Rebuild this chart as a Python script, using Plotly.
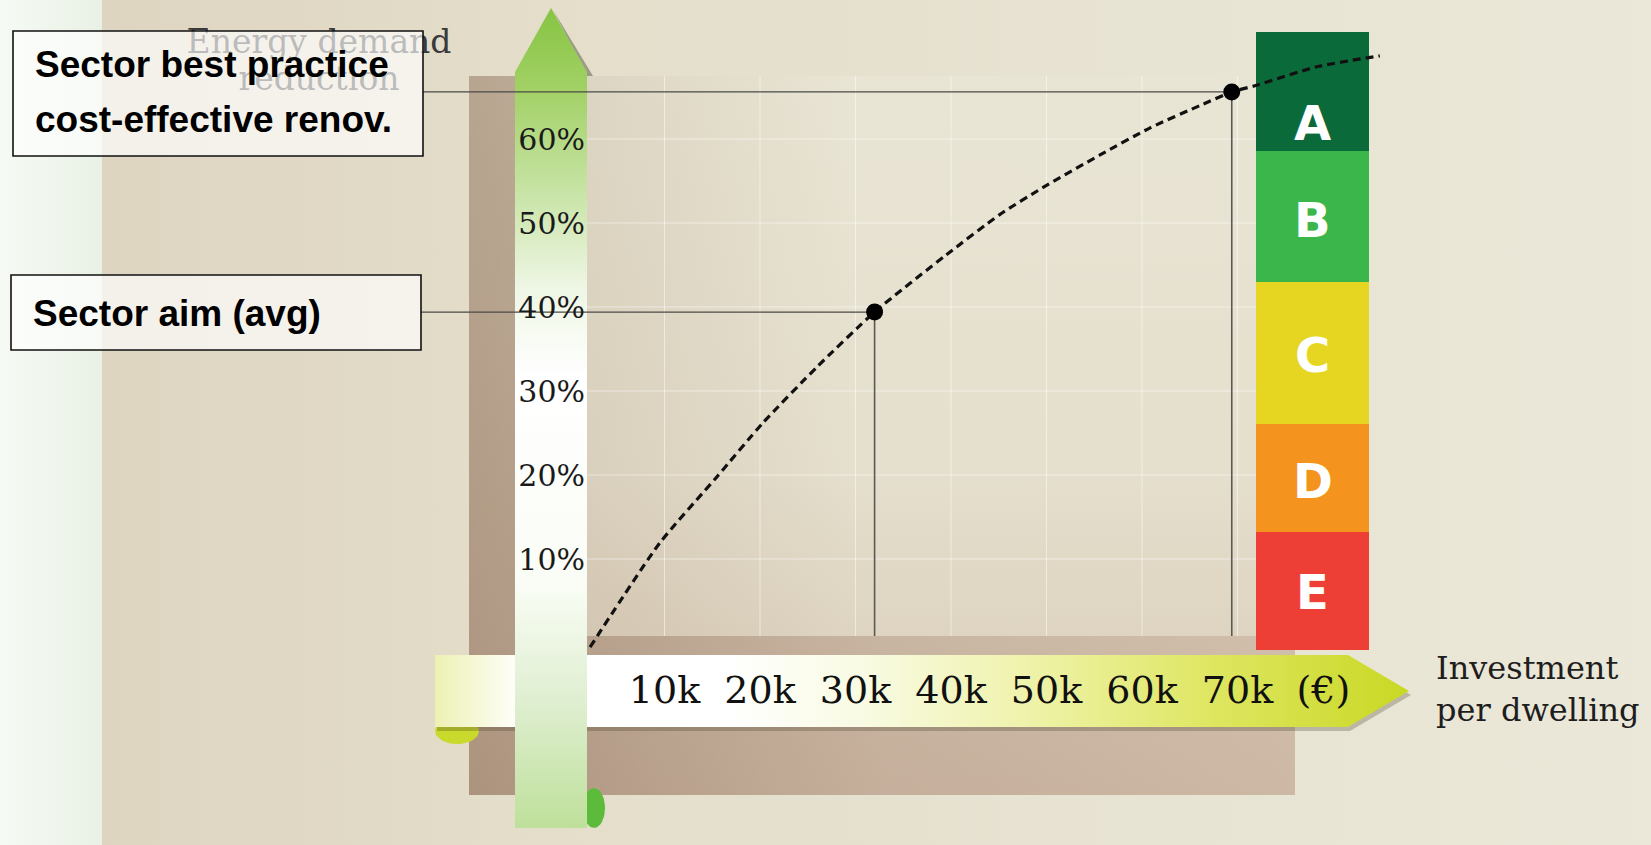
import numpy as np
import plotly.graph_objects as go

# ---------------- data ----------------
invest_k = [2.2, 9.5, 15.5, 20.3, 26.0, 32.0, 39.5, 45.1, 49.6, 55.6, 60.8, 66.1, 69.4, 72.0, 78.3, 84.9]
reduction_pct = [-0.5, 11.9, 19.8, 26.2, 32.9, 39.4, 46.2, 51.0, 54.2, 58.1, 61.3, 64.0, 65.6, 66.4, 68.6, 69.9]

marker_names = ["Sector aim (avg)", "Sector best practice cost-effective renov."]
marker_invest_k = [32.0, 69.4]
marker_reduction = [39.4, 65.6]

x_tickvals = [10, 20, 30, 40, 50, 60, 70, 79]
x_ticktext = ["10k", "20k", "30k", "40k", "50k", "60k", "70k", "(€)"]
y_tickvals = [10, 20, 30, 40, 50, 60]
y_ticktext = ["10%", "20%", "30%", "40%", "50%", "60%"]

grades = ["A", "B", "C", "D", "E"]
grade_colors = ["#0B6A3A", "#3BB64B", "#E6D621", "#F4941F", "#EE3F37"]

# ---------------- pixel layout -> axis mapping ----------------
W, H = 1651, 845
X0, XS = 569.0, 9.55   # pixel of 0k, pixels per 1k
Y0, YS = 643.0, 8.4    # pixel of 0%, pixels per 1%


def dx(px):
    return (px - X0) / XS


def dy(py):
    return (Y0 - py) / YS


GRADE_BANDS_PX = [(32, 151), (151, 282), (282, 424), (424, 532), (532, 650)]
GRADE_LABEL_Y_PX = [123, 220, 355, 481, 592]
COL_X_PX = (1256, 1369)

fig = go.Figure()


def add_poly(pts, color=None, grad=None, gtype="vertical"):
    xs = [dx(p[0]) for p in pts] + [dx(pts[0][0])]
    ys = [dy(p[1]) for p in pts] + [dy(pts[0][1])]
    kw = dict(x=xs, y=ys, mode="lines", line=dict(width=0), fill="toself",
              hoverinfo="skip", showlegend=False)
    if grad is not None:
        kw["fillgradient"] = dict(type=gtype, colorscale=grad)
        kw["fillcolor"] = grad[-1][1]
    else:
        kw["fillcolor"] = color
    fig.add_trace(go.Scatter(**kw))


def rect(x0, y0, x1, y1):
    return [(x0, y0), (x1, y0), (x1, y1), (x0, y1)]


def ellipse(cx, cy, rx, ry, n=40):
    t = np.linspace(0, 2 * np.pi, n)
    return [(cx + rx * np.cos(a), cy + ry * np.sin(a)) for a in t]


# background
add_poly(rect(0, 0, 102, H), grad=[[0, "#F6FAF4"], [1, "#E9F1E5"]], gtype="horizontal")
add_poly(rect(102, 0, W, H), grad=[[0, "#DED5C1"], [0.3, "#E4DECB"], [1, "#EBE8D9"]], gtype="horizontal")

# brown frame (dark at bottom-left, light at top-right)
add_poly(rect(469, 76, 1295, 795), grad=[[0, "#CDB8A5"], [0.5, "#D5C7B3"], [1, "#DCD2BF"]])
add_poly(rect(469, 76, 1295, 795), grad=[[0, "rgba(105,70,45,0.32)"], [0.5, "rgba(105,70,45,0.08)"],
                                         [1, "rgba(105,70,45,0)"]], gtype="horizontal")

# plot area
add_poly(rect(587, 76, 1256, 636), grad=[[0, "#DED4C1"], [0.3, "#E5DFCD"], [1, "#E9E5D4"]])
add_poly(rect(587, 76, 1256, 636), grad=[[0, "rgba(140,105,80,0.13)"], [0.4, "rgba(140,105,80,0)"],
                                         [1, "rgba(140,105,80,0)"]], gtype="horizontal")

# grid lines (from the tick values)
gx, gy = [], []
for v in x_tickvals[:7]:
    gx += [v, v, None]
    gy += [dy(636), dy(76), None]
for v in y_tickvals:
    gx += [dx(587), dx(1256), None]
    gy += [v, v, None]
fig.add_trace(go.Scatter(x=gx, y=gy, mode="lines", line=dict(color="rgba(255,255,255,0.5)", width=1),
                         hoverinfo="skip", showlegend=False))

# ribbon curl (left) and ribbon
add_poly(ellipse(457, 731, 22, 13), color="#CADA2C")
rib = [(435, 655), (1348, 655), (1409, 691), (1348, 727), (435, 727)]
add_poly([(x + 2, y + 4) for x, y in rib], color="rgba(70,60,40,0.28)")
add_poly(rib, grad=[[0, "#EDF1B2"], [0.09, "#FFFFFF"], [0.3, "#FFFFFF"], [0.45, "#F8FAE0"],
                    [0.62, "#EEF2A6"], [0.8, "#DEE660"], [1, "#C9D824"]], gtype="horizontal")

# vertical arrow: curl, head shadow, body
add_poly(ellipse(594, 808, 11, 20), color="#5CBB3B")
add_poly([(553, 10), (593, 76), (587, 76)], color="rgba(70,70,60,0.45)")
arrow = [(515, 828), (515, 72), (551, 8), (587, 72), (587, 828)]
add_poly(arrow, grad=[[0, "#BEE09B"], [0.16, "#E0EFD2"], [0.3, "#FAFDF6"], [0.55, "#FFFFFF"],
                      [0.66, "#EEF6E4"], [0.78, "#C6E3A3"], [0.9, "#A2D166"], [1, "#86C442"]])

# energy label column
for g, c, (y0, y1) in zip(grades, grade_colors, GRADE_BANDS_PX):
    add_poly(rect(COL_X_PX[0], y0, COL_X_PX[1], y1), color=c)

# "Energy demand reduction" (under the semi-transparent box)
fig.add_trace(go.Scatter(x=[dx(319), dx(319)], y=[dy(45), dy(82)], mode="text",
                         text=["Energy demand", "reduction"],
                         textfont=dict(family="DejaVu Serif", size=33, color="#3A3A3A"),
                         hoverinfo="skip", showlegend=False))

# leader lines from boxes to points
box_edge_px = [421, 423]
for bx, mx, my in zip(box_edge_px, marker_invest_k, marker_reduction):
    fig.add_trace(go.Scatter(x=[dx(bx), mx], y=[my, my], mode="lines",
                             line=dict(color="#4A4A46", width=1.2), hoverinfo="skip", showlegend=False))
    fig.add_trace(go.Scatter(x=[mx, mx], y=[my, dy(636)], mode="lines",
                             line=dict(color="#5A5A55", width=1.6), hoverinfo="skip", showlegend=False))

# dashed curve
fig.add_trace(go.Scatter(x=invest_k, y=reduction_pct, mode="lines",
                         line=dict(color="#111111", width=3.2, dash="8px,5px", shape="spline", smoothing=0.6),
                         hoverinfo="skip", showlegend=False, cliponaxis=False))

# points
fig.add_trace(go.Scatter(x=marker_invest_k, y=marker_reduction, mode="markers", text=marker_names,
                         marker=dict(color="#000000", size=17), hoverinfo="text", showlegend=False))

# boxes
shapes = [
    dict(type="rect", xref="x", yref="y", x0=dx(13), x1=dx(423), y0=dy(31), y1=dy(156),
         fillcolor="rgba(255,255,255,0.66)", line=dict(color="#111111", width=1.6), layer="above"),
    dict(type="rect", xref="x", yref="y", x0=dx(11), x1=dx(421), y0=dy(275), y1=dy(350),
         fillcolor="rgba(255,255,255,0.66)", line=dict(color="#111111", width=1.6), layer="above"),
]

box_font = dict(family="Liberation Sans, Arial, sans-serif", size=37, color="#000000")
annotations = [
    dict(x=dx(33), y=dy(64), text="<b>Sector best practice</b>", xanchor="left", yanchor="middle",
         showarrow=False, font=box_font),
    dict(x=dx(33), y=dy(119), text="<b>cost-effective renov.</b>", xanchor="left", yanchor="middle",
         showarrow=False, font=box_font),
    dict(x=dx(31), y=dy(313), text="<b>Sector aim (avg)</b>", xanchor="left", yanchor="middle",
         showarrow=False, font=box_font),
    dict(x=dx(1434), y=dy(689), text="Investment<br>per dwelling", xanchor="left", yanchor="middle",
         align="left", showarrow=False, font=dict(family="DejaVu Serif", size=32, color="#1E1E1E")),
]
for g, ly in zip(grades, GRADE_LABEL_Y_PX):
    annotations.append(dict(x=dx((COL_X_PX[0] + COL_X_PX[1]) / 2), y=dy(ly), text="<b>%s</b>" % g,
                            showarrow=False, xanchor="center", yanchor="middle",
                            font=dict(family="DejaVu Sans", size=48, color="#FFFFFF")))

fig.update_layout(
    width=W, height=H, autosize=False, template="none",
    margin=dict(l=0, r=0, t=0, b=0, pad=0),
    paper_bgcolor="#E6E2D1", plot_bgcolor="rgba(0,0,0,0)",
    showlegend=False, shapes=shapes, annotations=annotations,
    xaxis=dict(domain=[0, 1], range=[dx(0), dx(W)], anchor="free", position=1 - 664 / H,
               tickvals=x_tickvals, ticktext=x_ticktext, ticks="", showgrid=False, zeroline=False,
               showline=False, fixedrange=True, automargin=False,
               tickfont=dict(family="DejaVu Serif", size=38, color="#111111")),
    yaxis=dict(domain=[0, 1], range=[dy(H), dy(0)], anchor="free", position=585 / W,
               tickvals=y_tickvals, ticktext=y_ticktext, ticks="", showgrid=False, zeroline=False,
               showline=False, fixedrange=True, automargin=False,
               tickfont=dict(family="DejaVu Serif", size=30, color="#1A1A1A")),
)

fig.write_html("out.html", config={"displayModeBar": False})
